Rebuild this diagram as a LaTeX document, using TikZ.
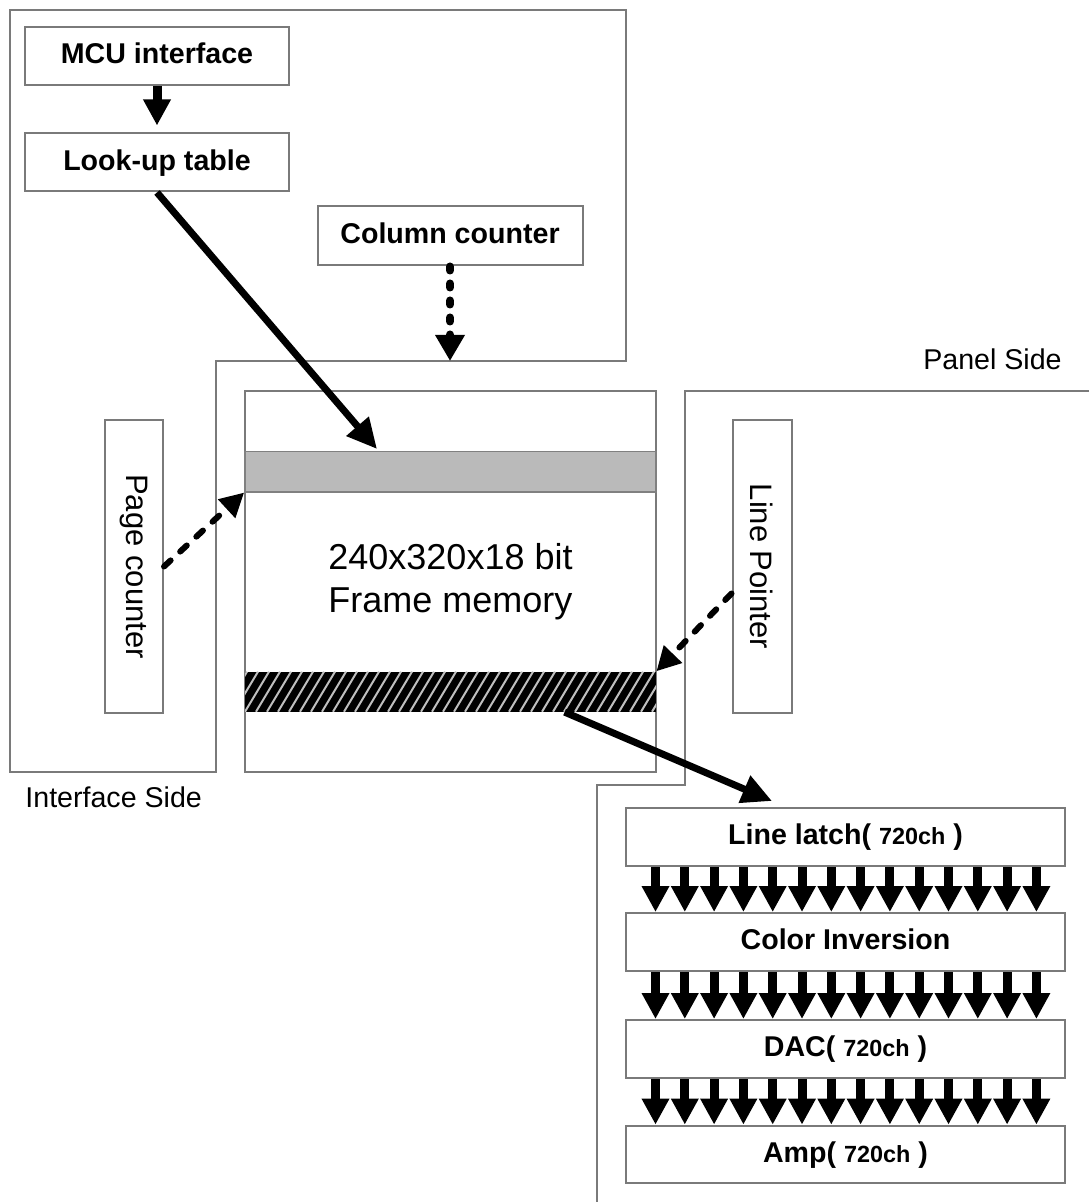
\documentclass[tikz,border=0pt]{standalone}
\usepackage{fontspec}
\setmainfont{Liberation Sans}
\usetikzlibrary{arrows.meta,calc}
\begin{document}
\begin{tikzpicture}[x=0.5pt,y=-0.5pt,
  gframe/.style={draw=black!52, line width=1pt},
  box/.style={gframe, fill=white, inner sep=0pt, text height=1.5ex, text depth=0pt, font=\bfseries\fontsize{14.3}{17}\selectfont},
  plainbox/.style={gframe, fill=white, inner sep=0pt},
  vlabel/.style={rotate=-90, inner sep=0pt, font=\fontsize{15.5}{18}\selectfont},
  sidelabel/.style={inner sep=0pt, font=\fontsize{14.3}{17}\selectfont},
  fatarrow/.style={line width=4.5pt, -{Triangle[length=13pt,width=13pt]}},
  solidarrow/.style={line width=3.5pt, -{Triangle[length=15pt,width=14pt]}},
  dasharrow/.style={line width=3pt, line cap=round, dash pattern=on 4.5pt off 6.5pt, -{Triangle[length=12pt,width=12pt]}},
  dotarrow/.style={line width=4pt, line cap=round, dash pattern=on 2pt off 6.5pt, -{Triangle[length=13pt,width=14pt]}},
]
\fill[white] (0,0) rectangle (1089,1202);
\useasboundingbox (0,0) rectangle (1089,1202);

% region outlines
\draw[gframe] (10,10) -- (626,10) -- (626,361) -- (216,361) -- (216,772) -- (10,772) -- cycle;
\draw[gframe] (1089,391) -- (685,391) -- (685,785) -- (597,785) -- (597,1202);

% interface side blocks
\node[box, minimum width=132pt, minimum height=29pt] (mcu) at (157,56) {MCU interface};
\node[box, minimum width=132pt, minimum height=29pt] (lut) at (157,162.5) {Look-up table};
\node[box, minimum width=132.5pt, minimum height=29.5pt] (cc) at (450,236) {Column counter};
\node[plainbox, minimum width=29pt, minimum height=146.5pt] (pc) at (134,566.5) {};
\node[vlabel] (pctext) at (pc.center) {Page counter};
\node[plainbox, minimum width=29.5pt, minimum height=146.5pt] (lp) at (762,566.5) {};
\node[vlabel] (lptext) at (lp.center) {Line Pointer};

% frame memory
\node[plainbox, minimum width=205.5pt, minimum height=190.5pt, align=center,
      font=\fontsize{18}{21.5}\selectfont] (fm) at (450.5,581.5) {240x320x18 bit\\Frame memory};
\node[draw=black!50, line width=0.8pt, fill=black!27, minimum width=205.5pt, minimum height=20pt, inner sep=0pt] (ts) at (450.5,471.7) {};
\node[fill=black, minimum width=205.5pt, minimum height=20pt, inner sep=0pt,
      path picture={
        \foreach \k in {-4,...,38}{
          \draw[white!75!black, line width=1pt] ($(path picture bounding box.south west)+({11*\k},0)$) -- ++(24,-40);
        }
      }] (hs) at (450.5,691.7) {};

% side labels
\node[sidelabel, anchor=base west] (ifs) at (25,807) {Interface Side};
\node[sidelabel, anchor=base east] (pls) at (1062,370) {Panel Side};

% panel side pipeline
\node[box, minimum width=219.5pt, minimum height=29pt] (ll) at (845.5,837) {Line latch( {\fontsize{11.7}{12}\selectfont 720ch} )};
\node[box, minimum width=219.5pt, minimum height=29pt] (ci) at (845.5,942) {Color Inversion};
\node[box, minimum width=219.5pt, minimum height=29pt] (dac) at (845.5,1049) {DAC( {\fontsize{11.7}{12}\selectfont 720ch} )};
\node[box, minimum width=219.5pt, minimum height=28.7pt] (amp) at (845.5,1154.3) {Amp( {\fontsize{11.7}{12}\selectfont 720ch} )};

% connectors
\draw[fatarrow, shorten >=3.5pt] (mcu) -- (lut);
\coordinate (lutin) at (377,449);
\draw[solidarrow] (lut.south) -- (lutin);
\coordinate (ccin) at (450,361);
\draw[dotarrow] (cc.south) -- (ccin);
\draw[dasharrow] (pc.east) -- (ts.south west);
\draw[dasharrow] ($(lp.west)+(0,27)$) -- (hs.north east);
\coordinate (llin) at (772,801);
\draw[solidarrow] ($(hs.south west)+(320,0)$) -- (llin);

\foreach \a/\b in {ll/ci,ci/dac,dac/amp}{
  \foreach \k in {0,...,13}{
    \draw[fatarrow] ($(\a.south west)+({30.5+29.3*\k},0)$) -- ($(\b.north west)+({30.5+29.3*\k},0)$);
  }
}
\end{tikzpicture}
\end{document}
